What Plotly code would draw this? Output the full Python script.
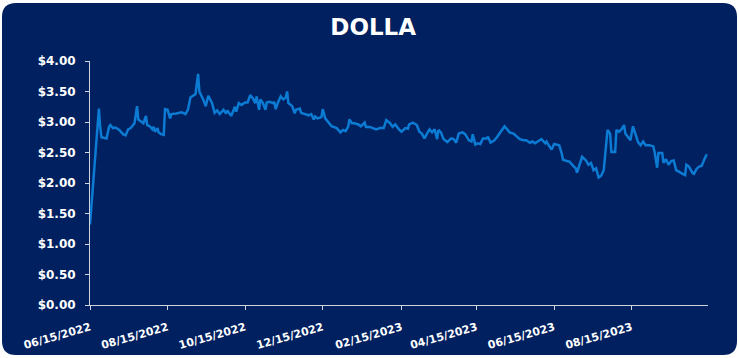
import plotly.graph_objects as go

dates = [
    "2022-06-15", "2022-06-22", "2022-06-23", "2022-06-24", "2022-06-28", "2022-06-30",
    "2022-07-01", "2022-07-03", "2022-07-05", "2022-07-08", "2022-07-11", "2022-07-13",
    "2022-07-15", "2022-07-17", "2022-07-20", "2022-07-22", "2022-07-23", "2022-07-25",
    "2022-07-27", "2022-07-29", "2022-07-30", "2022-08-01", "2022-08-03", "2022-08-04",
    "2022-08-05", "2022-08-07", "2022-08-08", "2022-08-10", "2022-08-12", "2022-08-13",
    "2022-08-15", "2022-08-17", "2022-08-18", "2022-08-22", "2022-08-26", "2022-08-29",
    "2022-08-31", "2022-09-02", "2022-09-06", "2022-09-08", "2022-09-09", "2022-09-12",
    "2022-09-14", "2022-09-16", "2022-09-19", "2022-09-21", "2022-09-23", "2022-09-25",
    "2022-09-28", "2022-09-30", "2022-10-01", "2022-10-04", "2022-10-06", "2022-10-07",
    "2022-10-08", "2022-10-10", "2022-10-12", "2022-10-15", "2022-10-17", "2022-10-19",
    "2022-10-21", "2022-10-23", "2022-10-24", "2022-10-26", "2022-10-27", "2022-10-29",
    "2022-10-31", "2022-11-01", "2022-11-03", "2022-11-06", "2022-11-07", "2022-11-08",
    "2022-11-10", "2022-11-12", "2022-11-14", "2022-11-16", "2022-11-17", "2022-11-18",
    "2022-11-21", "2022-11-23", "2022-11-24", "2022-11-27", "2022-11-28", "2022-12-01",
    "2022-12-04", "2022-12-06", "2022-12-08", "2022-12-09", "2022-12-11", "2022-12-14",
    "2022-12-15", "2022-12-17", "2022-12-19", "2022-12-22", "2022-12-26", "2022-12-29",
    "2022-12-31", "2023-01-02", "2023-01-04", "2023-01-05", "2023-01-07", "2023-01-09",
    "2023-01-12", "2023-01-14", "2023-01-17", "2023-01-18", "2023-01-21", "2023-01-24",
    "2023-01-26", "2023-01-29", "2023-02-01", "2023-02-03", "2023-02-06", "2023-02-08",
    "2023-02-10", "2023-02-13", "2023-02-15", "2023-02-18", "2023-02-20", "2023-02-21",
    "2023-02-24", "2023-02-27", "2023-03-01", "2023-03-03", "2023-03-05", "2023-03-07",
    "2023-03-09", "2023-03-11", "2023-03-13", "2023-03-15", "2023-03-16", "2023-03-18",
    "2023-03-20", "2023-03-23", "2023-03-26", "2023-03-28", "2023-03-30", "2023-04-01",
    "2023-04-04", "2023-04-06", "2023-04-09", "2023-04-11", "2023-04-12", "2023-04-14",
    "2023-04-16", "2023-04-18", "2023-04-20", "2023-04-23", "2023-04-24", "2023-04-26",
    "2023-04-29", "2023-05-01", "2023-05-03", "2023-05-05", "2023-05-07", "2023-05-09",
    "2023-05-11", "2023-05-14", "2023-05-17", "2023-05-19", "2023-05-22", "2023-05-24",
    "2023-05-27", "2023-05-29", "2023-05-31", "2023-06-02", "2023-06-05", "2023-06-08",
    "2023-06-09", "2023-06-11", "2023-06-13", "2023-06-15", "2023-06-19", "2023-06-21",
    "2023-06-22", "2023-06-25", "2023-06-27", "2023-06-30", "2023-07-02", "2023-07-03",
    "2023-07-07", "2023-07-10", "2023-07-12", "2023-07-14", "2023-07-16", "2023-07-18",
    "2023-07-20", "2023-07-22", "2023-07-24", "2023-07-27", "2023-07-29", "2023-07-30",
    "2023-08-02", "2023-08-03", "2023-08-05", "2023-08-07", "2023-08-09", "2023-08-10",
    "2023-08-12", "2023-08-14", "2023-08-16", "2023-08-18", "2023-08-20", "2023-08-22",
    "2023-08-24", "2023-08-26", "2023-08-29", "2023-09-01", "2023-09-02", "2023-09-04",
    "2023-09-05", "2023-09-08", "2023-09-09", "2023-09-11", "2023-09-13", "2023-09-15",
    "2023-09-17", "2023-09-19", "2023-09-21", "2023-09-24", "2023-09-26", "2023-09-27",
    "2023-09-29", "2023-10-02", "2023-10-03", "2023-10-05", "2023-10-07", "2023-10-09",
    "2023-10-11", "2023-10-13",
]

prices = [
    1.32, 3.22, 2.92, 2.75, 2.73, 2.92,
    2.95, 2.90, 2.91, 2.87, 2.80, 2.78,
    2.88, 2.90, 2.98, 3.26, 3.04, 3.01,
    2.98, 3.10, 2.95, 2.93, 2.88, 2.92,
    2.84, 2.90, 2.83, 2.80, 2.79, 3.21,
    3.20, 3.06, 3.13, 3.14, 3.16, 3.13,
    3.20, 3.40, 3.46, 3.79, 3.50, 3.37,
    3.26, 3.43, 3.31, 3.15, 3.19, 3.13,
    3.20, 3.14, 3.19, 3.10, 3.22, 3.25,
    3.17, 3.31, 3.28, 3.32, 3.32, 3.44,
    3.39, 3.31, 3.42, 3.20, 3.37, 3.31,
    3.20, 3.32, 3.33, 3.31, 3.33, 3.21,
    3.33, 3.42, 3.37, 3.40, 3.50, 3.31,
    3.26, 3.14, 3.20, 3.22, 3.15, 3.13,
    3.11, 3.13, 3.04, 3.09, 3.06, 3.08,
    3.21, 3.06, 3.00, 2.93, 2.90, 2.83,
    2.87, 2.85, 2.92, 3.04, 2.98, 2.98,
    2.96, 2.93, 2.99, 2.92, 2.92, 2.90,
    2.88, 2.90, 2.90, 3.03, 2.98, 2.92,
    2.96, 2.88, 2.84, 2.90, 2.89, 2.96,
    2.99, 2.95, 2.84, 2.81, 2.73, 2.81,
    2.88, 2.83, 2.88, 2.72, 2.87, 2.83,
    2.72, 2.67, 2.73, 2.72, 2.66, 2.81,
    2.83, 2.80, 2.70, 2.68, 2.80, 2.63,
    2.65, 2.64, 2.73, 2.73, 2.76, 2.66,
    2.70, 2.75, 2.81, 2.88, 2.93, 2.88,
    2.83, 2.81, 2.76, 2.72, 2.70, 2.70,
    2.66, 2.68, 2.65, 2.68, 2.72, 2.65,
    2.68, 2.61, 2.55, 2.64, 2.62, 2.48,
    2.38, 2.36, 2.35, 2.28, 2.24, 2.17,
    2.43, 2.37, 2.30, 2.33, 2.21, 2.24,
    2.09, 2.12, 2.21, 2.87, 2.81, 2.51,
    2.51, 2.87, 2.84, 2.88, 2.95, 2.81,
    2.76, 2.70, 2.93, 2.79, 2.67, 2.62,
    2.68, 2.62, 2.62, 2.60, 2.51, 2.25,
    2.49, 2.49, 2.33, 2.39, 2.30, 2.36,
    2.37, 2.21, 2.18, 2.15, 2.13, 2.30,
    2.27, 2.16, 2.15, 2.23, 2.27, 2.28,
    2.38, 2.47,
]

title_text = "DOLLA"

NAVY = "#002060"
LINE = "#0C7BD3"
AXIS = "#D0D4DC"

# figure / plot-area geometry (pixels)
W, H = 739, 358
ML, MR, MT, MB = 90, 31, 61, 53
PW, PH = W - ML - MR, H - MT - MB


def px(x):
    return (x - ML) / PW


def py(y):
    return (H - MB - y) / PH


# rounded background card
L, R, T, B, RAD = 2, 737, 3, 355, 14
path = (
    f"M {px(L + RAD)},{py(T)} L {px(R - RAD)},{py(T)} "
    f"Q {px(R)},{py(T)} {px(R)},{py(T + RAD)} "
    f"L {px(R)},{py(B - RAD)} Q {px(R)},{py(B)} {px(R - RAD)},{py(B)} "
    f"L {px(L + RAD)},{py(B)} Q {px(L)},{py(B)} {px(L)},{py(B - RAD)} "
    f"L {px(L)},{py(T + RAD)} Q {px(L)},{py(T)} {px(L + RAD)},{py(T)} Z"
)

fig = go.Figure()
fig.add_trace(go.Scatter(
    x=dates, y=prices, mode="lines",
    line=dict(color=LINE, width=2.5),
    hoverinfo="x+y", showlegend=False,
))

fig.update_layout(
    width=W, height=H,
    margin=dict(l=ML, r=MR, t=MT, b=MB),
    paper_bgcolor="white",
    plot_bgcolor="rgba(0,0,0,0)",
    shapes=[dict(type="path", path=path, xref="paper", yref="paper",
                 fillcolor=NAVY, line=dict(width=0), layer="below")],
    title=dict(text=title_text, x=0.505, xanchor="center", y=0.925, yanchor="middle",
               font=dict(family="DejaVu Sans", size=23, color="white", weight="bold")),
    font=dict(family="DejaVu Sans", color="white"),
)

fig.update_xaxes(
    type="date",
    automargin=False,
    range=["2022-06-15", "2023-10-14"],
    tick0="2022-06-15", dtick="M2", tickformat="%m/%d/%Y",
    tickangle=-16,
    ticklabelstandoff=7,
    showgrid=False, zeroline=False,
    showline=True, linecolor=AXIS, linewidth=1,
    ticks="outside", ticklen=4, tickcolor=AXIS, tickwidth=1,
    tickfont=dict(family="DejaVu Sans", size=11, color="white", weight="bold"),
)
fig.update_yaxes(
    automargin=False,
    range=[0, 4], dtick=0.5, tickformat="$.2f",
    ticklabelstandoff=7,
    showgrid=False, zeroline=False,
    showline=True, linecolor=AXIS, linewidth=1,
    ticks="outside", ticklen=4, tickcolor=AXIS, tickwidth=1,
    tickfont=dict(family="DejaVu Sans", size=12, color="white", weight="bold"),
)

fig.write_html("out.html")
